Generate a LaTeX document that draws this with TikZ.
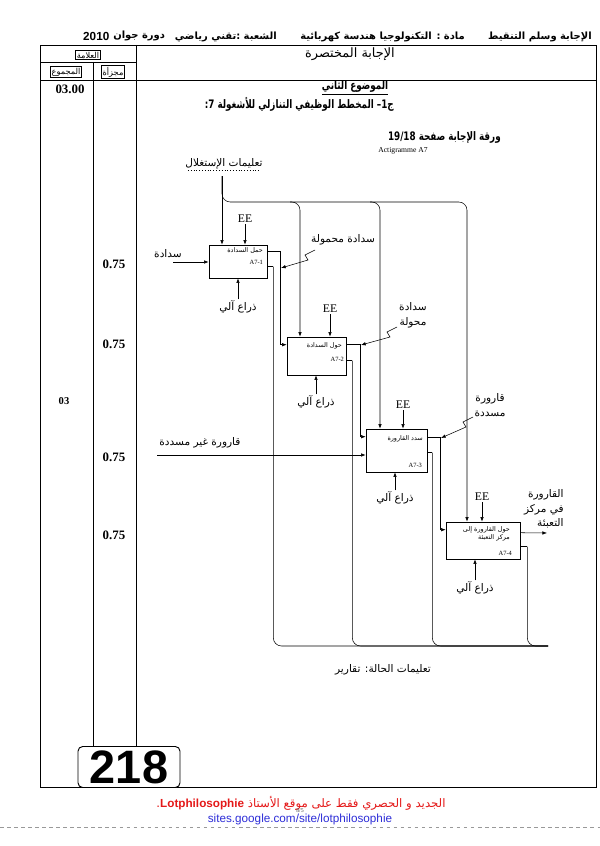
\documentclass[tikz,border=0pt]{standalone}
\usepackage{fontspec}
\setmainfont{Liberation Serif}
\newfontfamily\arabicfont[Script=Arabic]{DejaVu Sans}
\newfontfamily\arabiccond[Script=Arabic,FakeStretch=0.75]{DejaVu Sans}
\newfontfamily\latinsans{Liberation Sans}
\usepackage{xcolor}
\usetikzlibrary{arrows.meta,positioning,fit,calc}
\TeXXeTstate=1
\definecolor{footred}{RGB}{228,24,24}
\definecolor{footblue}{RGB}{45,45,215}
\newcommand\artxt[1]{{\arabicfont\beginR #1\endR}}
\newcommand\arcond[1]{{\arabiccond\beginR #1\endR}}

\begin{document}
\begin{tikzpicture}[x=0.03cm,y=-0.03cm,
  tbl/.style={line width=0.6pt},
  blk/.style={draw,line width=0.5pt,inner sep=0pt},
  arr/.style={-{Latex[length=4pt,width=3pt]},line width=0.45pt},
  wire/.style={line width=0.45pt},
  lbl/.style={font=\fontsize{9}{12.5}\selectfont,inner sep=1pt,align=center},
  boxtxt/.style={font=\fontsize{5.5}{7}\selectfont,inner sep=1pt,align=right},
  eelbl/.style={font=\fontsize{10}{10}\selectfont,inner sep=1pt},
  grade/.style={font=\bfseries\fontsize{11}{11}\selectfont,inner sep=0pt},
  hdr/.style={font=\bfseries\fontsize{8.5}{9}\selectfont,inner sep=0pt},
  colhead/.style={draw,line width=0.4pt,font=\fontsize{7}{8}\selectfont,inner sep=1pt},
  qtxt/.style={font=\bfseries\fontsize{10}{10}\selectfont,inner sep=0pt},
]
\useasboundingbox (0,0) rectangle (600,846);

% page header
\node[hdr,anchor=east] (hsubj) at (592,37) {\artxt{الإجابة وسلم التنقيط \qquad مادة : التكنولوجيا هندسة كهربائية}};
\node[hdr,anchor=east] (hbranch) at (277,37) {\artxt{الشعبة :تقني رياضي}};
\node[anchor=west,inner sep=0pt,font=\latinsans\bfseries\fontsize{10}{10}\selectfont] (hyear) at (83,36) {2010};
\node[hdr,right=3pt of hyear] (hsess) {\artxt{دورة جوان}};

% table
\draw[tbl] (40,45) rectangle (596,787);
\draw[tbl] (40,80) -- (596,80);
\draw[tbl] (40,62) -- (136,62);
\draw[tbl] (136,45) -- (136,747);
\draw[tbl] (93,62) -- (93,747);
\node[font=\fontsize{11}{11}\selectfont] (hans) at (350,54) {\artxt{الإجابة المختصرة}};
\node[colhead] (hmark) at (88,55) {\artxt{العلامة}};
\node[colhead] (htot) at (66,72) {\artxt{المجموع}};
\node[colhead] (hpart) at (113,72) {\artxt{مجزأة}};

% grades
\node[grade] (g0) at (70,89) {03.00};
\node[grade,font=\bfseries\fontsize{9}{9}\selectfont] (gtot) at (64,401) {03};
\foreach \y [count=\i] in {264,344,457,535}
  \node[grade] (p\i) at (114,\y) {0.75};

% question
\node[qtxt,inner sep=1pt] (subj) at (355,88) {\underline{\arcond{الموضوع الثاني}}};
\node[qtxt,anchor=east] (q1) at (394,104) {\arcond{ج1– المخطط الوظيفي التنازلي للأشغولة 7:}};
\node[qtxt,anchor=east] (sheet) at (501,137) {\arcond{ورقة الإجابة صفحة \beginL 19/18\endL}};
\node[font=\fontsize{6.5}{7}\selectfont] (acti) at (403,151) {Actigramme A7};

% boxes
\node[blk,fit={(209,245)(267,278)}] (b1) {};
\node[blk,fit={(287,337)(346,375)}] (b2) {};
\node[blk,fit={(366,429)(427,472)}] (b3) {};
\node[blk,fit={(446,522)(520,559)}] (b4) {};

\node[boxtxt,anchor=north east] (t1) at ($(b1.north east)+(-3,1)$) {\artxt{حمل السدادة}};
\node[boxtxt,anchor=east] (a1) at ($(b1.north east)+(-3,18)$) {A7-1};
\node[boxtxt,anchor=north east] (t2) at ($(b2.north east)+(-3,4)$) {\artxt{حول السدادة}};
\node[boxtxt,anchor=east] (a2) at ($(b2.north east)+(-1,23)$) {A7-2};
\node[boxtxt,anchor=north east] (t3) at ($(b3.north east)+(-3,5)$) {\artxt{سدد القارورة}};
\node[boxtxt,anchor=east] (a3) at ($(b3.south east)+(-4,-7)$) {A7-3};
\node[boxtxt,anchor=north east] (t4) at ($(b4.north east)+(-9,3)$) {\artxt{حول القارورة إلى}\\\artxt{مركز التعبئة}};
\node[boxtxt,anchor=east] (a4) at ($(b4.south east)+(-7,-6)$) {A7-4};

% control
\node[lbl] (ctl) at (224,164) {\artxt{تعليمات الإستغلال}};
\draw[dotted] ($(ctl.south west)+(4,0)$) -- ($(ctl.south east)+(-4,0)$);
\coordinate (cin) at (222,176);
\coordinate (c2) at (300,202);
\coordinate (c3) at (380,202);
\coordinate (c4) at (467,202);
\draw[arr] (cin) -- (cin |- b1.north);
\draw[arr,rounded corners=7pt] (cin) |- (c2) -- (c2 |- b2.north);
\draw[arr,rounded corners=7pt] ($(c2)+(-10,0)$) -| (c3 |- b3.north);
\draw[arr,rounded corners=7pt] ($(c3)+(-10,0)$) -| (c4 |- b4.north);

% EE
\foreach \i/\x/\y in {1/245/219,2/330/309,3/403/405,4/482/497} {
  \node[eelbl] (ee\i) at (\x,\y) {EE};
  \draw[arr] (ee\i) -- (ee\i |- b\i.north);
}

% mechanism
\foreach \i/\x/\y in {1/238/307,2/316/402,3/395/498,4/475/588} {
  \node[lbl] (m\i) at (\x,\y) {\artxt{ذراع آلي}};
  \draw[arr] (m\i) -- (m\i |- b\i.south);
}

% inputs
\node[lbl] (in1) at (168,254) {\artxt{سدادة}};
\coordinate (i1) at (173,262);
\draw[arr] (i1) -- (i1 -| b1.west);
\node[lbl,anchor=west] (in3) at (158,443) {\artxt{قارورة غير مسددة}};
\coordinate (i3) at (157,455);
\draw[arr] (i3) -- (i3 -| b3.west);

% outputs
\coordinate (o1) at ($(b1.north east)+(0,7)$);
\draw[arr] (o1) -- ++(13,0) |- ($(b2.north west)+(0,8)$);
\coordinate (o2) at ($(b2.north east)+(0,8)$);
\draw[arr] (o2) -- ++(14,0) |- ($(b3.north west)+(0,8)$);
\coordinate (o3) at ($(b3.north east)+(0,9)$);
\draw[arr] (o3) -- ++(13,0) |- ($(b4.north west)+(0,8)$);
\coordinate (o4) at ($(b4.north east)+(0,11)$);
\coordinate (out4) at (547,533);
\draw[arr] (o4) -- (out4);
\node[lbl,align=right,anchor=north east] (o4lbl) at (565,488) {\artxt{القارورة}\\\artxt{في مركز}\\\artxt{التعبئة}};

% output labels
\node[lbl] (s1) at (343,240) {\artxt{سدادة محمولة}};
\coordinate (s1tip) at (281,268);
\draw[arr] (315,250) -- ++(-10,5) -- ++(3,5) -- (s1tip);
\node[lbl] (s2) at (413,315) {\artxt{سدادة}\\\artxt{محولة}};
\coordinate (s2tip) at (361,345);
\draw[arr] (397,327) -- ++(-10,5) -- ++(3,5) -- (s2tip);
\node[lbl] (s3) at (490,405) {\artxt{قارورة}\\\artxt{مسددة}};
\coordinate (s3tip) at (441,438);
\draw[arr] (473,417) -- ++(-10,5) -- ++(3,5) -- (s3tip);

% reports
\coordinate (rbus) at (548,646);
\coordinate (r1) at ($(b1.north east)+(0,22)$);
\coordinate (r2) at ($(b2.north east)+(0,24)$);
\coordinate (r3) at ($(b3.north east)+(0,24)$);
\coordinate (r4) at ($(b4.north east)+(0,25)$);
\foreach \i/\d in {1/6,2/6,3/5,4/7} {
  \draw[wire] (r\i) -- ++(\d,0) coordinate (k\i);
  \draw[wire,rounded corners=7pt] (k\i) |- (rbus);
}
\node[lbl] (stat) at (383,670) {\artxt{تعليمات الحالة: تقارير}};

% page number box
\node[draw,line width=0.8pt,rounded corners=4pt,fill=white,minimum width=3.06cm,minimum height=1.23cm,inner sep=0pt,
  font=\latinsans\bfseries\fontsize{40}{40}\selectfont] (pnum) at (129,767) {218};

% footer
\node[text=footred,font=\fontsize{10}{10}\selectfont] (foot1) at (301,803) {\artxt{الجديد و الحصري فقط على موقع الأستاذ \beginL{\latinsans\bfseries Lotphilosophie}\endL.}};
\node[font=\fontsize{5}{5}\selectfont,text=black!70] (pg) at (300,811) {8/5};
\node[text=footblue,font=\latinsans\fontsize{10}{10}\selectfont] (foot2) at (300,819) {sites.google.com/site/lotphilosophie};
\draw[black!40,dashed,line width=0.6pt] (0,827) -- (600,827);
\end{tikzpicture}
\end{document}
